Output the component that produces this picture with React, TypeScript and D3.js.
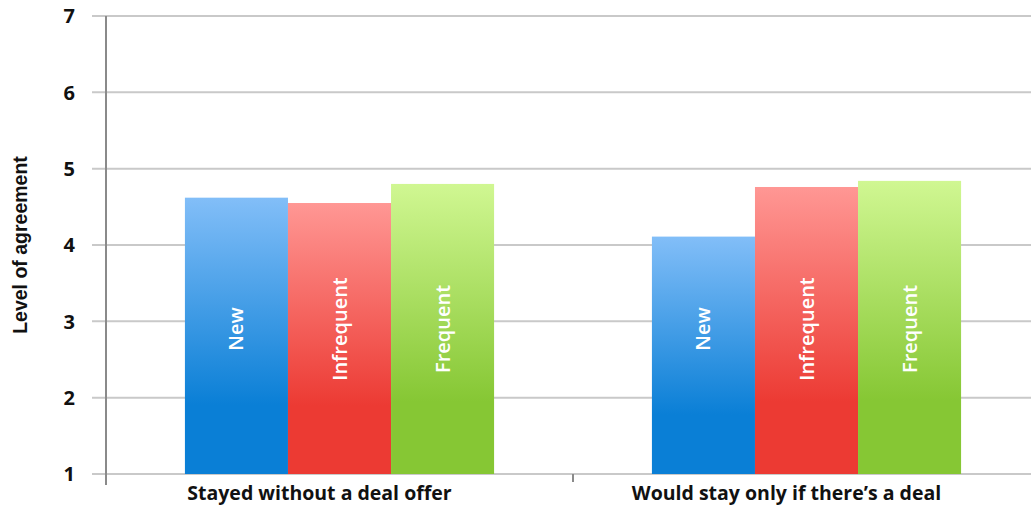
import React from "react";
import * as d3 from "d3";

const categories = ["Stayed without a deal offer", "Would stay only if there\u2019s a deal"];
const series = ["New", "Infrequent", "Frequent"];
const newValues = [4.62, 4.11];
const infrequentValues = [4.55, 4.76];
const frequentValues = [4.8, 4.84];
const yTicks = [1, 2, 3, 4, 5, 6, 7];

const W = 1031;
const H = 506;

// gradient stops per series: top, bottom
const gradients: Record<string, [string, string]> = {
  New: ["#82bef8", "#0a7fd6"],
  Infrequent: ["#ff9794", "#ec3a33"],
  Frequent: ["#d0f792", "#86c734"],
};

export default function App() {
  const values: Record<string, number[]> = {
    New: newValues,
    Infrequent: infrequentValues,
    Frequent: frequentValues,
  };

  const y = d3.scaleLinear().domain([1, 7]).range([474, 16]);
  const x0 = d3.scaleBand<string>().domain(categories).range([106, 1040]).padding(0);
  const bw = x0.bandwidth();
  const groupW = bw * 0.662;
  const x1 = d3.scaleBand<string>().domain(series).range([0, groupW]).padding(0);

  const font = "'Open Sans', 'Noto Sans', sans-serif";

  return (
    <div style={{ position: "absolute", left: 0, top: 0 }}>
      <svg width={W} height={H} style={{ display: "block", background: "#fff" }}>
        <defs>
          {series.map((s) => (
            <linearGradient key={s} id={`g-${s}`} x1="0" y1="0" x2="0" y2="1">
              <stop offset="0%" stopColor={gradients[s][0]} />
              <stop offset="75%" stopColor={gradients[s][1]} />
              <stop offset="100%" stopColor={gradients[s][1]} />
            </linearGradient>
          ))}
        </defs>

        {/* gridlines */}
        {yTicks.map((t) => (
          <line
            key={t}
            x1={92}
            x2={W}
            y1={y(t)}
            y2={y(t)}
            stroke="#c9c9c9"
            strokeWidth={2}
          />
        ))}

        {/* tick labels */}
        {yTicks.map((t) => (
          <text
            key={t}
            x={75}
            y={y(t)}
            dy="0.36em"
            textAnchor="end"
            fontFamily={font}
            fontWeight={700}
            fontSize={20}
            fill="#111"
          >
            {t}
          </text>
        ))}

        {/* bars */}
        {categories.map((c, ci) => {
          const gx = (x0(c) ?? 0) + (bw - groupW) / 2;
          return (
            <g key={c} transform={`translate(${gx},0)`}>
              {series.map((s) => {
                const v = values[s][ci];
                const bx = x1(s) ?? 0;
                return (
                  <g key={s}>
                    <rect
                      x={bx}
                      y={y(v)}
                      width={x1.bandwidth()}
                      height={y(1) - y(v)}
                      fill={`url(#g-${s})`}
                    />
                    <text
                      transform={`translate(${bx + x1.bandwidth() / 2},${y(2.9)}) rotate(-90)`}
                      textAnchor="middle"
                      dy="0.35em"
                      fontFamily={font}
                      fontWeight={600}
                      fontSize={20}
                      fill="#fff"
                    >
                      {s}
                    </text>
                  </g>
                );
              })}
            </g>
          );
        })}

        {/* axis line */}
        <line x1={106} x2={106} y1={16} y2={485} stroke="#8a8a8a" strokeWidth={2} />
        {/* category divider tick */}
        <line
          x1={(x0(categories[1]) ?? 0)}
          x2={(x0(categories[1]) ?? 0)}
          y1={474}
          y2={482}
          stroke="#8a8a8a"
          strokeWidth={2}
        />

        {/* category labels */}
        {categories.map((c) => (
          <text
            key={c}
            x={(x0(c) ?? 0) + bw / 2}
            dx={-20}
            y={500}
            textAnchor="middle"
            fontFamily={font}
            fontWeight={700}
            fontSize={19.5}
            fill="#111"
          >
            {c}
          </text>
        ))}

        {/* y axis title */}
        <text
          transform="translate(27,245) rotate(-90)"
          textAnchor="middle"
          fontFamily="'Liberation Sans', Arial, sans-serif"
          fontWeight={700}
          fontSize={19.5}
          fill="#111"
        >
          Level of agreement
        </text>
      </svg>
    </div>
  );
}
